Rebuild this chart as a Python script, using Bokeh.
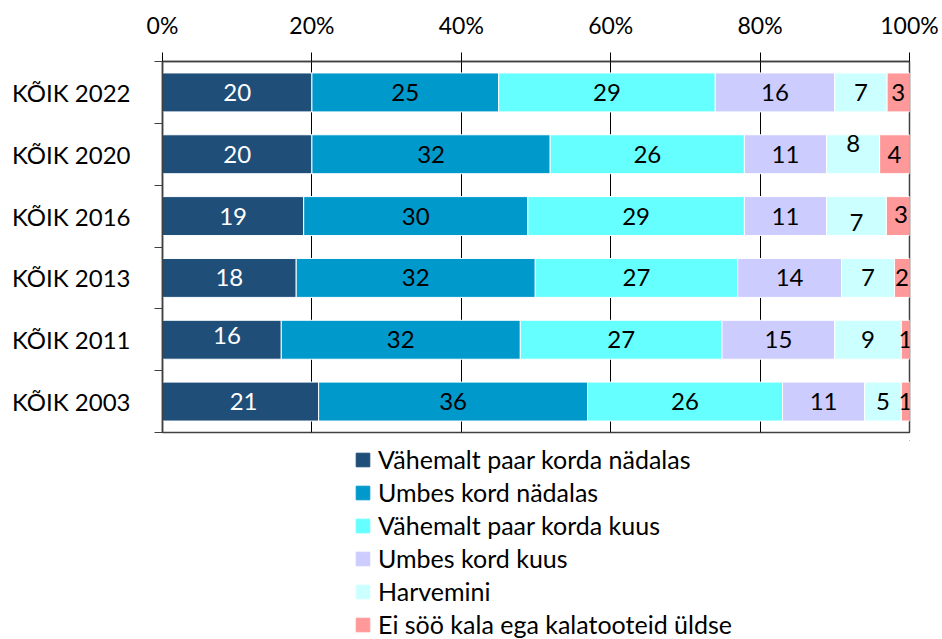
from bokeh.plotting import figure
from bokeh.models import ColumnDataSource, Range1d, FixedTicker, Legend, LegendItem
from bokeh.layouts import column
from bokeh.core.properties import value
from bokeh.embed import file_html
from bokeh.resources import INLINE

categories = ["KÕIK 2022", "KÕIK 2020", "KÕIK 2016", "KÕIK 2013", "KÕIK 2011", "KÕIK 2003"]
series_names = ["Vähemalt paar korda nädalas", "Umbes kord nädalas", "Vähemalt paar korda kuus",
                "Umbes kord kuus", "Harvemini", "Ei söö kala ega kalatooteid üldse"]

# bar widths (percent)
s1 = [20.0, 20.0, 18.9, 17.9, 15.9, 20.9]
s2 = [25.0, 31.9, 30.0, 32.0, 32.0, 36.0]
s3 = [29.0, 26.0, 29.0, 27.1, 27.0, 26.1]
s4 = [16.0, 11.0, 11.0, 13.9, 15.1, 11.0]
s5 = [7.0, 7.1, 8.0, 7.1, 8.9, 4.9]
s6 = [3.0, 4.0, 3.1, 2.0, 1.1, 1.1]

# printed data labels
l1 = [20, 20, 19, 18, 16, 21]
l2 = [25, 32, 30, 32, 32, 36]
l3 = [29, 26, 29, 27, 27, 26]
l4 = [16, 11, 11, 14, 15, 11]
l5 = [7, 8, 7, 7, 9, 5]
l6 = [3, 4, 3, 2, 1, 1]

x_ticks = [0, 20, 40, 60, 80, 100]
x_tick_labels = ["0%", "20%", "40%", "60%", "80%", "100%"]

colors = ["#1F4E79", "#0099CC", "#66FFFF", "#CCCCFF", "#CCFFFF", "#FF9999"]
label_colors = ["white", "black", "black", "black", "black", "black"]

FONT = "Lato"
n = len(categories)
ypos = [n - i - 0.5 for i in range(n)]

series = [s1, s2, s3, s4, s5, s6]
labels = [l1, l2, l3, l4, l5, l6]
keys = ["s%d" % (k + 1) for k in range(6)]
data = {"y": ypos}
for k, s in zip(keys, series):
    data[k] = s
source = ColumnDataSource(data)

p = figure(width=942, height=440, output_backend="svg", toolbar_location=None,
           x_range=Range1d(0, 100), y_range=Range1d(0, n),
           x_axis_location="above", min_border_left=162, min_border_top=61,
           min_border_right=33, min_border_bottom=8)
p.background_fill_color = "white"
p.border_fill_color = "white"
p.outline_line_color = "#404040"
p.outline_line_width = 1.5

renderers = p.hbar_stack(keys, y="y", height=0.63, color=colors, source=source,
                         line_color="white", line_width=1)

# data labels
tx, ty, tt, tc, xo, yo = [], [], [], [], [], []
offsets = {(4, 1): (0, -11), (4, 2): (0, 6), (5, 2): (3, -2), (0, 4): (5, -4), (0, 5): (3, 0)}
for i in range(n):
    cum = 0.0
    for k in range(6):
        w = series[k][i]
        tx.append(cum + w / 2)
        ty.append(ypos[i])
        tt.append(str(labels[k][i]))
        tc.append(label_colors[k])
        dx, dy = offsets.get((k, i), (0, 0))
        xo.append(dx)
        yo.append(dy)
        cum += w
lsrc = ColumnDataSource(dict(x=tx, y=ty, t=tt, c=tc, xo=xo, yo=yo))
p.text(x="x", y="y", text="t", source=lsrc, text_color="c", x_offset="xo", y_offset="yo",
       text_align="center", text_baseline="middle", text_font=value(FONT),
       text_font_size="24px")

# x axis (top)
xa = p.xaxis[0]
xa.ticker = FixedTicker(ticks=x_ticks)
xa.major_label_overrides = {t: l for t, l in zip(x_ticks, x_tick_labels)}
xa.major_tick_out = 9
xa.major_tick_in = 0
xa.minor_tick_out = 0
xa.minor_tick_in = 0
xa.axis_line_color = "#404040"
xa.axis_line_width = 1.5
xa.major_tick_line_color = "black"
xa.major_label_text_font = FONT
xa.major_label_text_font_size = "23px"
xa.major_label_text_color = "black"
xa.major_label_standoff = 14

# y axis (left): labels at centers, ticks at category boundaries
ya = p.yaxis[0]
ya.ticker = FixedTicker(ticks=ypos, minor_ticks=list(range(n + 1)))
ya.major_label_overrides = {y: c for y, c in zip(ypos, categories)}
ya.major_tick_out = 0
ya.major_tick_in = 0
ya.minor_tick_out = 8
ya.minor_tick_in = 0
ya.minor_tick_line_color = "#404040"
ya.axis_line_color = "#404040"
ya.axis_line_width = 1.5
ya.major_label_text_font = FONT
ya.major_label_text_font_size = "24px"
ya.major_label_text_color = "black"
ya.major_label_standoff = 24

p.xgrid.ticker = FixedTicker(ticks=x_ticks[1:-1])
p.xgrid.grid_line_color = "black"
p.xgrid.grid_line_width = 1
p.ygrid.grid_line_color = None

# legend in its own strip below the chart (its bars lie outside its visible range)
q = figure(width=942, height=199, output_backend="svg", toolbar_location=None,
           x_range=Range1d(-2, -1), y_range=Range1d(-2, -1),
           min_border_left=162, min_border_right=33, min_border_top=0, min_border_bottom=0)
q.axis.visible = False
q.grid.grid_line_color = None
q.outline_line_color = None
q.background_fill_color = "white"
q.border_fill_color = "white"
legend_renderers = q.hbar_stack(keys, y="y", height=0.63, color=colors, source=source)

legend = Legend(items=[LegendItem(label=nm, renderers=[r]) for nm, r in zip(series_names, legend_renderers)],
                location=(192, 0), orientation="vertical")
legend.label_text_font = FONT
legend.label_text_font_size = "25px"
legend.label_text_color = "black"
legend.glyph_width = 17
legend.glyph_height = 17
legend.label_standoff = 7
legend.spacing = 3
legend.padding = 0
legend.margin = 0
legend.border_line_color = None
legend.background_fill_alpha = 0
legend.label_height = 25
q.add_layout(legend, "center")

layout = column(p, q, spacing=0)
open("out.html", "w").write(file_html(layout, INLINE))
